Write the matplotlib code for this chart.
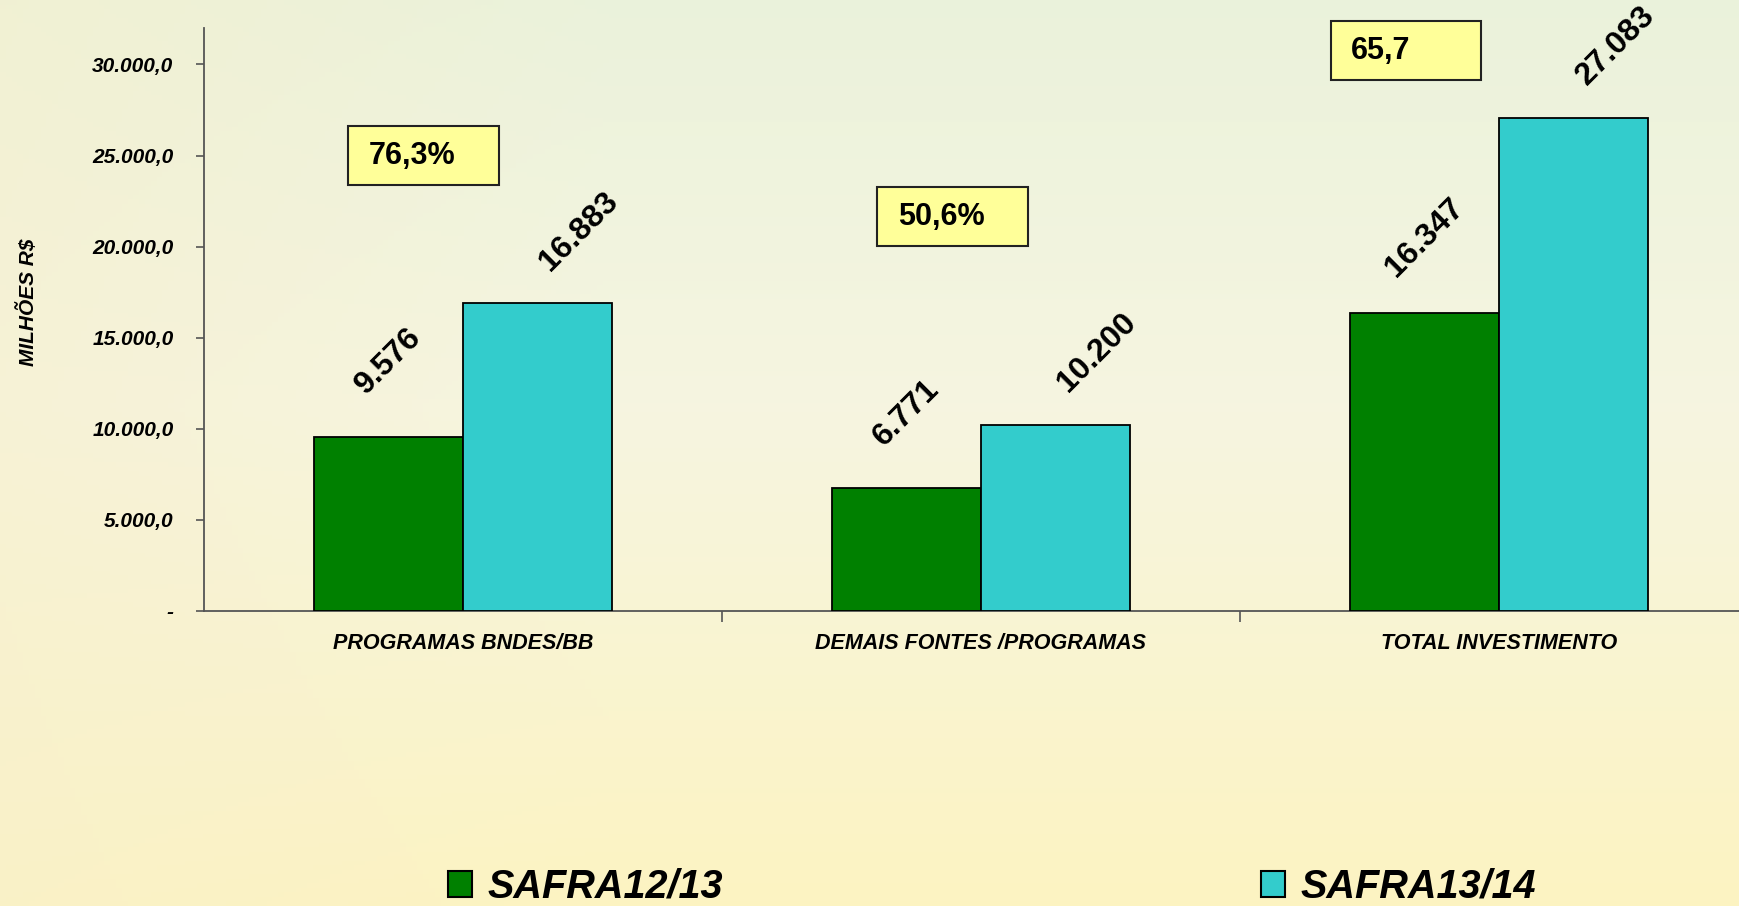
import numpy as np
import matplotlib
matplotlib.use('Agg')
from matplotlib import pyplot as plt
from matplotlib.patches import Rectangle, Patch
from matplotlib.ticker import FuncFormatter

plt.rcParams['font.family'] = ['Liberation Sans', 'DejaVu Sans']

categories = ['PROGRAMAS BNDES/BB', 'DEMAIS FONTES /PROGRAMAS', 'TOTAL INVESTIMENTO']
series_names = ['SAFRA12/13', 'SAFRA13/14']
safra_12_13 = [9576, 6771, 16347]
safra_13_14 = [16883, 10200, 27083]
growth_labels = ['76,3%', '50,6%', '65,7']

colors = ['#008000', '#33CCCC']
# box positions (x in category units, y bottom in data units) - layout only
box_pos = [(0.278, 23370), (1.30, 20010), (2.175, 29140)]
box_w, box_h = 0.291, 3240


def fmt_num(v, pos=None):
    if v == 0:
        return '-'
    s = f'{v:,.1f}'
    return s.replace(',', 'X').replace('.', ',').replace('X', '.')


fig = plt.figure(figsize=(17.39, 9.06), dpi=100)

# background gradient
bg = fig.add_axes([0, 0, 1, 1], zorder=-10)
h, w = 200, 300
yy = np.linspace(0, 1, h)[:, None]
xx = np.linspace(0, 1, w)[None, :]
top = np.array([0.92, 0.95, 0.86])
mid = np.array([0.965, 0.96, 0.88])
bot = np.array([0.99, 0.955, 0.76])
t = np.clip(yy / 0.45, 0, 1)[..., None]
b = np.clip((yy - 0.45) / 0.55, 0, 1)[..., None]
img = top * (1 - t) + mid * t
img = img * (1 - b) + bot * b
img = np.broadcast_to(img, (h, w, 3)).copy()
left = np.clip(1 - xx / 0.35, 0, 1)[..., None] * 0.5
img = img * (1 - left) + np.array([0.97, 0.94, 0.80]) * left
bg.imshow(img, aspect='auto', extent=[0, 1, 0, 1], origin='upper')
bg.axis('off')

ax = fig.add_axes([204 / 1739, 1 - 611 / 906, 1554 / 1739, 583 / 906])
ax.set_facecolor('none')

x = np.arange(len(categories)) + 0.5
bw = 0.287
ax.bar(x - bw / 2, safra_12_13, bw, color=colors[0], edgecolor='black', linewidth=1.3, zorder=3)
ax.bar(x + bw / 2, safra_13_14, bw, color=colors[1], edgecolor='black', linewidth=1.3, zorder=3)

ax.set_xlim(0, 3)
ax.set_ylim(0, 32000)

for i in range(len(categories)):
    ax.annotate(f'{safra_12_13[i]:,}'.replace(',', '.'), (x[i] - bw / 2, safra_12_13[i]),
                xytext=(0, 75), textcoords='offset pixels', rotation=45,
                ha='center', va='center', fontsize=23, fontweight='bold')
    ax.annotate(f'{safra_13_14[i]:,}'.replace(',', '.'), (x[i] + bw / 2, safra_13_14[i]),
                xytext=(42, 72), textcoords='offset pixels', rotation=45,
                ha='center', va='center', fontsize=23, fontweight='bold')
    bx, by = box_pos[i]
    ax.add_patch(Rectangle((bx, by), box_w, box_h, facecolor='#FFFF99', edgecolor='#222222',
                           linewidth=1.5, clip_on=False, zorder=4))
    ax.text(bx + 0.04, by + box_h / 2, growth_labels[i], ha='left', va='center',
            fontsize=22, fontweight='bold', zorder=5, clip_on=False)

ax.yaxis.set_major_formatter(FuncFormatter(fmt_num))
ax.set_yticks(range(0, 30001, 5000))
for lbl in ax.get_yticklabels():
    lbl.set_fontweight('bold')
    lbl.set_fontstyle('italic')
ax.tick_params(axis='y', labelsize=15, length=6, pad=16, color='#555555', width=1.2)

ax.set_xticks(x)
ax.set_xticklabels(categories, fontsize=15.5, fontweight='bold', fontstyle='italic')
ax.tick_params(axis='x', length=0, pad=16)
ax.set_xticks([1, 2], minor=True)
ax.tick_params(axis='x', which='minor', length=8, color='#555555', width=1.2)

for s in ['top', 'right']:
    ax.spines[s].set_visible(False)
for s in ['left', 'bottom']:
    ax.spines[s].set_color('#555555')
    ax.spines[s].set_linewidth(1.3)

fig.text(28 / 1739, 1 - 302 / 906, 'MILHÕES R$', rotation=90, ha='center', va='center',
         fontsize=15, fontweight='bold', fontstyle='italic')

handles = [Patch(facecolor=c, edgecolor='black', linewidth=1.5) for c in colors]
fig.legend(handles, series_names, loc='lower left', bbox_to_anchor=(448 / 1739, 0.0),
           ncol=2, frameon=False, handlelength=0.6, handleheight=0.65, handletextpad=0.4,
           columnspacing=13.6, borderpad=0, borderaxespad=0,
           prop={'size': 28.5, 'weight': 'bold', 'style': 'italic'})

fig.savefig('out.png', dpi=100)
